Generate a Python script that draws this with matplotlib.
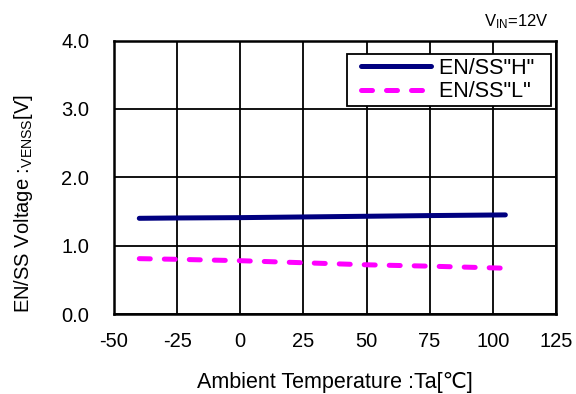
import matplotlib
matplotlib.use("Agg")
import matplotlib.pyplot as plt
from matplotlib.legend_handler import HandlerLine2D

plt.rcParams['font.family'] = ['Liberation Sans', 'DejaVu Sans']
plt.rcParams['mathtext.fontset'] = 'custom'
plt.rcParams['mathtext.rm'] = 'Liberation Sans'

temp = [-40, -25, 0, 25, 50, 75, 105]
en_h = [1.40, 1.405, 1.41, 1.42, 1.43, 1.44, 1.45]
en_l = [0.81, 0.80, 0.78, 0.75, 0.72, 0.70, 0.67]

xticks = [-50, -25, 0, 25, 50, 75, 100, 125]
yticks = [0.0, 1.0, 2.0, 3.0, 4.0]

fig = plt.figure(figsize=(5.76, 3.94), dpi=100)
ax = fig.add_axes([0.198, 0.203, 0.767, 0.694])

lh, = ax.plot(temp, en_h, color='#000080', lw=3.6, solid_capstyle='round', label='EN/SS"H"  ')
ll, = ax.plot(temp, en_l, color='#FF00FF', lw=3.6, dashes=(2.2, 2.8), dash_capstyle='round', label='EN/SS"L"  ')

ax.set_xlim(-50, 125)
ax.set_ylim(0, 4)
ax.set_xticks(xticks)
ax.set_yticks(yticks)
ax.set_xticklabels([str(t) for t in xticks])
ax.set_yticklabels([f"{t:.1f}" for t in yticks])
ax.grid(True, color='black', lw=1.3)
ax.set_axisbelow(True)
for s in ax.spines.values():
    s.set_linewidth(1.8)
ax.tick_params(length=0, labelsize=14.5)
ax.tick_params(axis='x', pad=13)
ax.tick_params(axis='y', pad=18)

ax.set_xlabel('Ambient Temperature :Ta[\u2103]', fontsize=15.5, va='center')
ax.set_ylabel(r'EN/SS Voltage :$\mathregular{_{VENSS}}$[V]', fontsize=14.5, va='center')
ax.xaxis.set_label_coords(0.5, -0.249)
ax.yaxis.set_label_coords(-0.206, 0.404)

hm = {lh: HandlerLine2D(xpad=0.45), ll: HandlerLine2D(xpad=0.45)}
leg = ax.legend(handles=[lh, ll], handler_map=hm, loc='upper right', fontsize=15.5,
                frameon=True, fancybox=False, edgecolor='black', framealpha=1,
                handlelength=3.7, borderpad=0.2, labelspacing=0.1, handletextpad=0.35,
                borderaxespad=0, bbox_to_anchor=(0.988, 0.952))
leg.get_frame().set_linewidth(1.3)

fig.text(0.952, 0.945, r'V$\mathregular{_{IN}}$=12V', ha='right', va='center', fontsize=12)

fig.savefig('out.png', dpi=100)
